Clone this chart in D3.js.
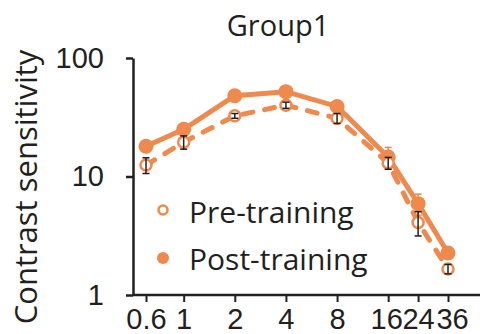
<!DOCTYPE html>
<html>
<head>
<meta charset="utf-8">
<script src="https://cdn.jsdelivr.net/npm/d3@7"></script>
<style>
  body { margin: 0; background: #fff; }
  svg { display: block; font-family: "Open Sans", "DejaVu Sans", sans-serif; }
</style>
</head>
<body>
<svg id="chart" width="480" height="334"></svg>
<script>
// spatial frequency (cycles/deg)
var freqs = [0.6, 1, 2, 4, 8, 16, 24, 36];
var tickLabels = ["0.6", "1", "2", "4", "8", "16", "24", "36"];

// contrast sensitivity
var preValues = [12.5, 19.5, 32.5, 40, 31, 13, 4.1, 1.66];
var preErr = [1.9, 2.5, 1.5, 2.4, 3, 1.5, 0.95, 0.15];
var postValues = [18, 25, 48, 52, 39, 14.6, 5.9, 2.26];
var postErr = [1, 1.2, 1.5, 2, 2.5, 3, 1.2, 0.2];

var orange = "#EE8A4D";
var ink = "#231f20";

var svg = d3.select("#chart");

var x = d3.scaleLog().domain([0.6, 36]).range([146, 448]);
var y = d3.scaleLog().domain([1, 100]).range([295, 58]);

// title
svg.append("text")
  .attr("x", 278).attr("y", 36)
  .attr("text-anchor", "middle")
  .attr("font-size", 29)
  .attr("fill", ink)
  .text("Group1");

// y label
svg.append("text")
  .attr("transform", "translate(37,187) rotate(-90)")
  .attr("text-anchor", "middle")
  .attr("font-size", 31)
  .attr("fill", ink)
  .text("Contrast sensitivity");

// axes
var yAxis = svg.append("g")
  .attr("transform", "translate(133,0)")
  .call(d3.axisLeft(y).tickValues([1, 10, 100]).tickFormat(d3.format("d")).tickSize(7).tickSizeOuter(0));
yAxis.select(".domain").attr("stroke", ink).attr("stroke-width", 2.5);
yAxis.selectAll(".tick line").attr("stroke", ink).attr("stroke-width", 2.5);
yAxis.selectAll(".tick text").attr("font-size", 29).attr("fill", ink).attr("x", -29);

var xAxis = svg.append("g")
  .attr("transform", "translate(0,295)")
  .call(d3.axisBottom(x).tickValues(freqs).tickFormat(function(d, i) { return tickLabels[i]; }).tickSize(7).tickSizeOuter(0));
xAxis.select(".domain").attr("d", "M133,0H480").attr("stroke", ink).attr("stroke-width", 2.5);
xAxis.selectAll(".tick line").attr("stroke", ink).attr("stroke-width", 2);
xAxis.selectAll(".tick text").attr("font-size", 29).attr("fill", ink).attr("y", 13)
  .attr("dx", function(d) { return d === 16 ? -2 : d === 36 ? 4 : 0; });

var line = d3.line()
  .x(function(d, i) { return x(freqs[i]); })
  .y(function(d) { return y(d); });

// pre-training (dashed, open markers)
svg.append("path")
  .datum(preValues)
  .attr("d", line)
  .attr("fill", "none")
  .attr("stroke", orange)
  .attr("stroke-width", 5)
  .attr("stroke-linecap", "round")
  .attr("stroke-dasharray", "10,12");

// post-training (solid, filled markers)
svg.append("path")
  .datum(postValues)
  .attr("d", line)
  .attr("fill", "none")
  .attr("stroke", orange)
  .attr("stroke-width", 5);

function errorBars(values, errs, color) {
  var g = svg.append("g").attr("stroke", color).attr("stroke-width", 1.5);
  values.forEach(function(v, i) {
    var cx = x(freqs[i]);
    var y1 = y(v + errs[i]), y2 = y(Math.max(v - errs[i], 0.01));
    g.append("line").attr("x1", cx).attr("x2", cx).attr("y1", y1).attr("y2", y2);
    g.append("line").attr("x1", cx - 3.5).attr("x2", cx + 3.5).attr("y1", y1).attr("y2", y1);
    g.append("line").attr("x1", cx - 3.5).attr("x2", cx + 3.5).attr("y1", y2).attr("y2", y2);
  });
}

errorBars(postValues, postErr, orange);

svg.append("g").selectAll("circle")
  .data(postValues).enter().append("circle")
  .attr("cx", function(d, i) { return x(freqs[i]); })
  .attr("cy", function(d) { return y(d); })
  .attr("r", 7.5)
  .attr("fill", orange);

svg.append("g").selectAll("circle")
  .data(preValues).enter().append("circle")
  .attr("cx", function(d, i) { return x(freqs[i]); })
  .attr("cy", function(d) { return y(d); })
  .attr("r", 5.5)
  .attr("fill", "#fff")
  .attr("stroke", orange)
  .attr("stroke-width", 2.5);

errorBars(preValues, preErr, ink);

// legend
var legend = svg.append("g");
legend.append("circle").attr("cx", 163).attr("cy", 210).attr("r", 4.5)
  .attr("fill", "#fff").attr("stroke", orange).attr("stroke-width", 2.5);
legend.append("text").attr("x", 189).attr("y", 223).attr("font-size", 30).attr("fill", ink).text("Pre-training");
legend.append("circle").attr("cx", 163).attr("cy", 258).attr("r", 6).attr("fill", orange);
legend.append("text").attr("x", 189).attr("y", 270).attr("font-size", 30).attr("fill", ink).text("Post-training");
</script>
</body>
</html>
